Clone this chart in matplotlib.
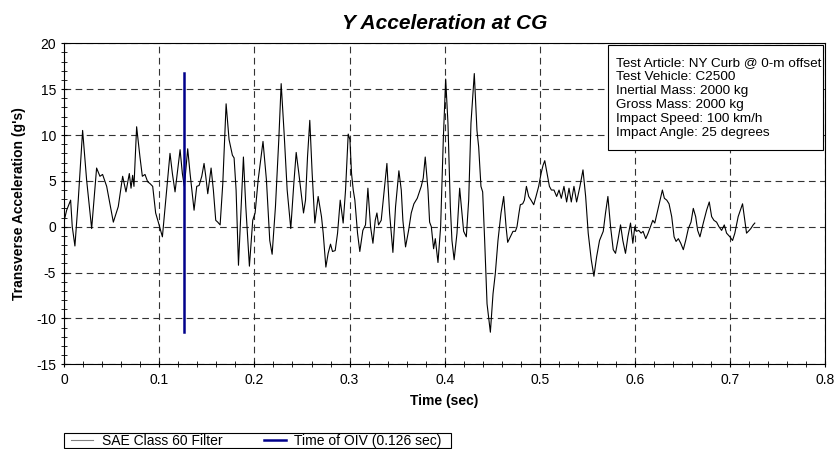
import numpy as np
import matplotlib.pyplot as plt
from matplotlib.patches import Rectangle
from matplotlib.ticker import MultipleLocator, FuncFormatter

plt.rcParams['font.family'] = ['Liberation Sans', 'DejaVu Sans']
plt.rcParams['axes.unicode_minus'] = False

# SAE Class 60 filtered transverse acceleration
time_s = [0.0, 0.0025, 0.0067, 0.0084, 0.0112, 0.0147, 0.0193, 0.0235, 0.0288, 0.0340,
          0.0375, 0.0403, 0.0446, 0.0516, 0.0568, 0.0614, 0.0649, 0.0684, 0.0702, 0.0719,
          0.0733, 0.0761, 0.0796, 0.0821, 0.0849, 0.0877, 0.0902, 0.0930, 0.0961, 0.0989,
          0.1032, 0.1077, 0.1112, 0.1137, 0.1165, 0.1193, 0.1218, 0.1242, 0.1263, 0.1298,
          0.1323, 0.1365, 0.1393, 0.1418, 0.1446, 0.1470, 0.1488, 0.1509, 0.1544, 0.1568,
          0.1593, 0.1614, 0.1639, 0.1667, 0.1702, 0.1733, 0.1768, 0.1786, 0.1807, 0.1832,
          0.1860, 0.1884, 0.1909, 0.1947, 0.1982, 0.2007, 0.2039, 0.2090, 0.2126, 0.2161,
          0.2186, 0.2221, 0.2256, 0.2281, 0.2312, 0.2344, 0.2382, 0.2414, 0.2439, 0.2467,
          0.2516, 0.2537, 0.2558, 0.2582, 0.2607, 0.2635, 0.2670, 0.2705, 0.2723, 0.2751,
          0.2775, 0.2800, 0.2821, 0.2849, 0.2874, 0.2902, 0.2933, 0.2958, 0.2986, 0.3004,
          0.3021, 0.3039, 0.3056, 0.3084, 0.3108, 0.3140, 0.3168, 0.3193, 0.3221, 0.3246,
          0.3270, 0.3288, 0.3305, 0.3333, 0.3361, 0.3393, 0.3421, 0.3456, 0.3484, 0.3519,
          0.3544, 0.3561, 0.3589, 0.3621, 0.3649, 0.3677, 0.3712, 0.3754, 0.3775, 0.3796,
          0.3825, 0.3842, 0.3860, 0.3884, 0.3902, 0.3930, 0.3958, 0.3986, 0.4011, 0.4035,
          0.4060, 0.4077, 0.4100, 0.4130, 0.4158, 0.4182, 0.4200, 0.4228, 0.4253, 0.4277,
          0.4312, 0.4340, 0.4358, 0.4382, 0.4400, 0.4421, 0.4446, 0.4481, 0.4509, 0.4533,
          0.4561, 0.4593, 0.4621, 0.4646, 0.4663, 0.4691, 0.4719, 0.4744, 0.4761, 0.4782,
          0.4796, 0.4821, 0.4839, 0.4860, 0.4884, 0.4909, 0.4937, 0.4961, 0.4989, 0.5014,
          0.5035, 0.5053, 0.5077, 0.5102, 0.5123, 0.5150, 0.5178, 0.5203, 0.5227, 0.5255,
          0.5283, 0.5308, 0.5332, 0.5360, 0.5388, 0.5423, 0.5455, 0.5483, 0.5510, 0.5542,
          0.5570, 0.5598, 0.5629, 0.5668, 0.5692, 0.5717, 0.5745, 0.5773, 0.5797, 0.5822,
          0.5850, 0.5874, 0.5902, 0.5927, 0.5955, 0.5979, 0.6000, 0.6017, 0.6042, 0.6066,
          0.6087, 0.6115, 0.6140, 0.6164, 0.6189, 0.6210, 0.6266, 0.6290, 0.6311, 0.6336,
          0.6360, 0.6388, 0.6413, 0.6434, 0.6458, 0.6483, 0.6510, 0.6535, 0.6563, 0.6591,
          0.6615, 0.6640, 0.6661, 0.6685, 0.6720, 0.6755, 0.6783, 0.6808, 0.6832, 0.6860,
          0.6885, 0.6913, 0.6941, 0.6965, 0.7000, 0.7028, 0.7052, 0.7087, 0.7133, 0.7157,
          0.7175, 0.7203, 0.7220, 0.7245, 0.7262]
accel_g = [0.7, 1.8, 2.9, 0.0, -2.1, 2.9, 10.5, 5.1, -0.2, 6.4,
           5.5, 5.7, 4.4, 0.5, 2.2, 5.5, 3.8, 5.8, 4.2, 5.6,
           4.4, 10.9, 7.6, 5.5, 5.7, 4.9, 4.7, 4.4, 1.5, 0.5,
           -1.1, 4.0, 8.0, 5.8, 3.8, 6.2, 8.4, 5.8, 4.4, 8.5,
           5.8, 1.8, 4.4, 4.5, 5.5, 6.9, 5.5, 3.6, 6.4, 4.0,
           0.7, 0.5, 0.2, 4.7, 13.4, 9.5, 7.8, 7.5, 4.0, -4.2,
           2.2, 7.6, 2.2, -4.3, 0.7, 1.5, 5.1, 9.3, 5.1, -1.5,
           -3.0, 2.2, 9.5, 15.6, 10.2, 4.0, -0.2, 4.7, 8.1, 5.8,
           1.5, 2.9, 7.6, 11.6, 5.8, 0.4, 3.3, 1.1, -0.7, -4.4,
           -2.9, -1.9, -2.7, -2.6, -0.7, 2.9, 0.4, 4.0, 10.1, 9.5,
           5.8, 4.0, 2.9, -0.7, -2.7, -0.4, 0.2, 4.2, 0.0, -1.8,
           0.7, 1.5, 0.2, 0.7, 3.6, 6.9, 1.5, -2.8, 2.2, 6.1,
           4.0, 0.7, -2.2, -0.4, 1.5, 2.5, 3.1, 4.4, 5.3, 7.6,
           4.0, 0.5, 0.0, -2.4, -1.3, -3.9, 0.0, 9.5, 16.1, 11.3,
           2.2, -1.5, -3.6, -0.7, 4.2, 1.5, -0.5, -1.1, 2.9, 11.3,
           16.7, 10.5, 8.7, 4.4, 3.8, -1.5, -8.4, -11.5, -7.3, -5.1,
           -1.5, 1.5, 3.3, 0.0, -1.7, -1.1, -0.5, -0.5, 0.0, 1.5,
           2.4, 2.5, 2.9, 4.4, 3.3, 2.9, 2.4, 3.3, 4.4, 5.8,
           6.7, 7.2, 5.8, 4.4, 4.0, 4.0, 3.3, 4.0, 3.1, 4.4,
           2.7, 4.2, 2.7, 4.4, 2.7, 4.4, 6.2, 3.3, -0.7, -3.6,
           -5.4, -3.3, -1.5, -0.5, 1.5, 3.3, 0.0, -2.5, -2.9, -1.5,
           0.2, -1.5, -2.9, -1.1, 0.4, -1.8, 0.0, -0.5, -0.4, -0.7,
           -0.5, -1.3, -0.7, 0.0, 0.7, 0.4, 2.9, 4.0, 3.1, 2.9,
           2.5, 1.1, -1.1, -1.6, -1.3, -1.8, -2.5, -1.5, -0.2, 0.5,
           2.0, 1.1, -0.4, -1.1, 0.4, 1.8, 2.7, 1.1, 0.7, 0.5,
           0.0, -0.4, 0.2, -0.7, -1.1, -1.5, -0.7, 1.1, 2.5, 0.7,
           -0.7, -0.4, -0.2, 0.2, 0.4]

oiv_time = 0.126
oiv_range = [-11.5, 16.8]

info_lines = ["Test Article: NY Curb @ 0-m offset",
              "Test Vehicle: C2500",
              "Inertial Mass: 2000 kg",
              "Gross Mass: 2000 kg",
              "Impact Speed: 100 km/h",
              "Impact Angle: 25 degrees"]

fig = plt.figure(figsize=(8.39, 4.49), dpi=100)
ax = fig.add_axes([0.0766, 0.1886, 0.9067, 0.715])

ax.plot(time_s, accel_g, color='black', lw=0.8, label='SAE Class 60 Filter')
ax.plot([oiv_time, oiv_time], oiv_range, color='#00008b', lw=1.8,
        label='Time of OIV (0.126 sec)')

ax.set_xlim(0, 0.8)
ax.set_ylim(-15, 20)
ax.xaxis.set_major_locator(MultipleLocator(0.1))
ax.xaxis.set_minor_locator(MultipleLocator(0.02))
ax.yaxis.set_major_locator(MultipleLocator(5))
ax.yaxis.set_minor_locator(MultipleLocator(1))
ax.xaxis.set_major_formatter(FuncFormatter(lambda v, p: '0' if abs(v) < 1e-9 else '%.1f' % v))
ax.tick_params(which='both', direction='inout', labelsize=10)
ax.tick_params(which='major', length=5)
ax.tick_params(which='minor', length=4)
ax.grid(True, which='major', color='#333333', ls=(0, (6, 4)), lw=0.8)

ax.set_title('Y Acceleration at CG', fontsize=15, fontweight='bold', style='italic', pad=10)
ax.set_xlabel('Time (sec)', fontsize=10, fontweight='bold', labelpad=5)
ax.set_ylabel("Transverse Acceleration (g's)", fontsize=10, fontweight='bold', labelpad=7)

# info box
ax.add_patch(Rectangle((0.7147, 0.6676), 0.2827, 0.3271, transform=ax.transAxes,
                       fc='white', ec='black', lw=0.8, zorder=5))
ax.text(0.7252, 0.8305, '\n'.join(info_lines), transform=ax.transAxes, fontsize=9.7,
        va='center', ha='left', linespacing=1.22, zorder=6)

# legend below the axes, with a tight frame drawn separately
handles, labels = ax.get_legend_handles_labels()
handles[0].set_color('gray')
leg = fig.legend(handles, labels, loc='center left', bbox_to_anchor=(0.0846, 0.0189),
                 ncol=2, fontsize=10, frameon=False, handlelength=1.6, handletextpad=0.6,
                 columnspacing=3.0, borderpad=0, borderaxespad=0)
handles[0].set_color('black')
fig.patches.append(Rectangle((0.0766, 0.0022), 0.4609, 0.0334, transform=fig.transFigure,
                             fill=False, ec='black', lw=0.8))

plt.savefig('out.png', dpi=100)
